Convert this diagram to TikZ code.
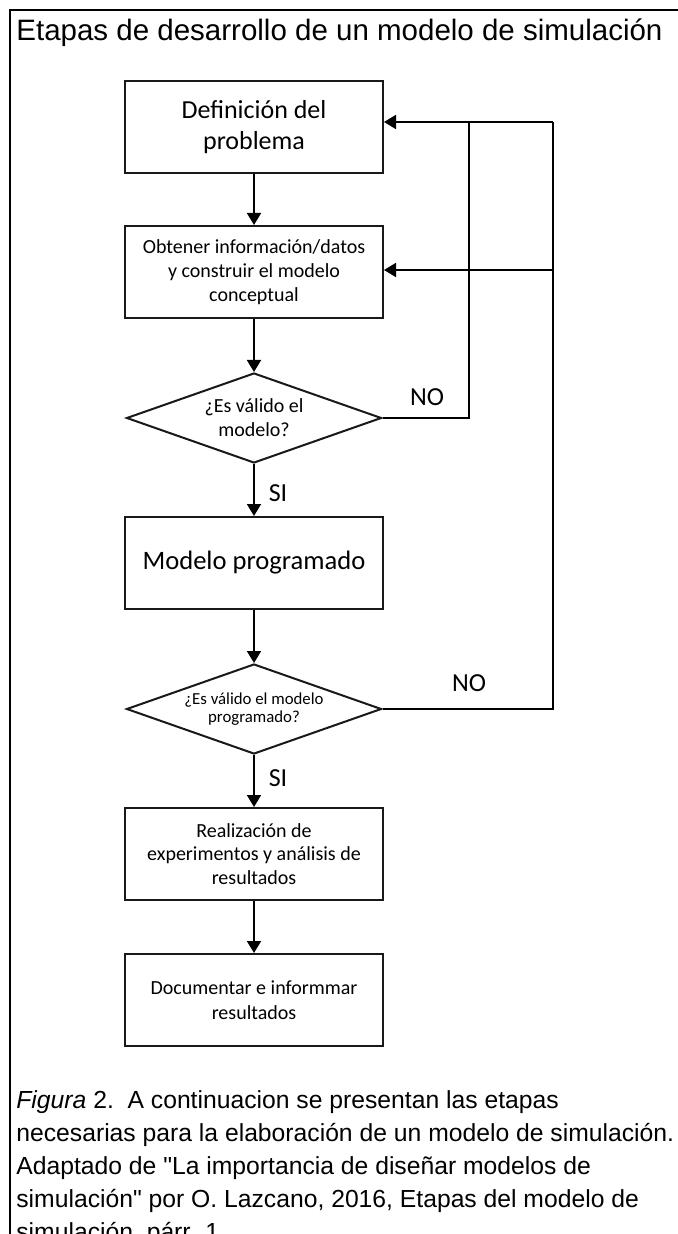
\documentclass[tikz,border=0pt]{standalone}
\usepackage{fontspec}
\setmainfont{Liberation Sans}[Ligatures=TeXOff]
\newfontfamily\flowfont{Carlito}
\usetikzlibrary{shapes.geometric,arrows.meta}

\tikzset{
  stepbox/.style={draw=black!90, line width=1pt, rectangle, inner sep=0pt,
    minimum width=129pt, minimum height=46pt, align=center, text=black},
  decision/.style={draw=black!90, line width=1pt, diamond, inner sep=0pt,
    minimum width=127.5pt, minimum height=45pt},
  decisiontext/.style={inner sep=0pt, align=center, text=black},
  flowline/.style={draw=black, line width=0.9pt},
  flowarrow/.style={flowline, -{Triangle[width=7pt,length=6pt]}},
  answer/.style={font=\flowfont\fontsize{13}{15}\selectfont, inner sep=0pt},
  captionline/.style={anchor=base west, inner sep=0pt,
    font=\fontsize{12.35}{16.5}\selectfont}
}

\begin{document}
\begin{tikzpicture}[x=0.5pt, y=-0.5pt]
  \useasboundingbox (0,0) rectangle (678,1234);
  \fill[white] (0,0) rectangle (678,1234);

  % outer frame: top and left rules
  \draw[line width=1pt] (10,1240) -- (10,10) -- (680,10);

  % heading
  \node[anchor=base west, inner sep=0pt, font=\fontsize{14.75}{17}\selectfont]
    (title) at (16,41) {Etapas de desarrollo de un modelo de simulación};

  % process steps
  \node[stepbox, font=\flowfont\fontsize{13}{15.5}\selectfont] (b1) at (254,127)
    {Definición del\\problema};
  \node[stepbox, font=\flowfont\fontsize{10}{12}\selectfont] (b2) at (254,272)
    {Obtener información/datos\\y construir el modelo\\conceptual};
  \node[stepbox, font=\flowfont\fontsize{13.3}{15.5}\selectfont] (b3) at (254,563)
    {Modelo programado};
  \node[stepbox, font=\flowfont\fontsize{10}{11.8}\selectfont] (b4) at (254,854)
    {Realización de\\experimentos y análisis de\\resultados};
  \node[stepbox, font=\flowfont\fontsize{10}{12.5}\selectfont] (b5) at (254,1000)
    {Documentar e informmar\\resultados};

  % decisions: fixed-size diamonds with their questions set inside
  \node[decision] (d1) at (254,418) {};
  \node[decisiontext, font=\flowfont\fontsize{10}{12}\selectfont] (q1) at (d1.center)
    {¿Es válido el\\modelo?};
  \node[decision] (d2) at (254,709) {};
  \node[decisiontext, font=\flowfont\fontsize{8.4}{9.3}\selectfont] (q2) at (d2.center)
    {¿Es válido el modelo\\programado?};

  % main flow
  \draw[flowarrow] (b1) -- (b2);
  \draw[flowarrow] (b2) -- (d1);
  \draw[flowarrow] (d1) -- (b3);
  \draw[flowarrow] (b3) -- (d2);
  \draw[flowarrow] (d2) -- (b4);
  \draw[flowarrow] (b4) -- (b5);

  % feedback loops
  \coordinate (innertop) at (469,122);
  \coordinate (outertop) at (553,122);
  \coordinate (outermid) at (553,270);
  \draw[flowline] (d1.east) -| (innertop);
  \draw[flowline] (d2.east) -| (outertop);
  \draw[flowarrow] (outertop) -- (b1.east |- outertop);
  \draw[flowarrow] (outermid) -- (b2.east |- outermid);

  % branch labels
  \node[answer] (no1) at (427,397) {NO};
  \node[answer] (si1) at (278,493) {SI};
  \node[answer] (no2) at (469,683) {NO};
  \node[answer] (si2) at (278,778) {SI};

  % figure note
  \node[captionline] (cap1) at (16,1108) {\textit{Figura} 2.\ \ A continuacion se presentan las etapas};
  \node[captionline] (cap2) at (16,1141) {necesarias para la elaboración de un modelo de simulación.};
  \node[captionline] (cap3) at (16,1174) {Adaptado de "La importancia de diseñar modelos de};
  \node[captionline] (cap4) at (16,1207) {simulación" por O. Lazcano, 2016, Etapas del modelo de};
  \node[captionline] (cap5) at (16,1240) {simulación, párr. 1.};
\end{tikzpicture}
\end{document}
